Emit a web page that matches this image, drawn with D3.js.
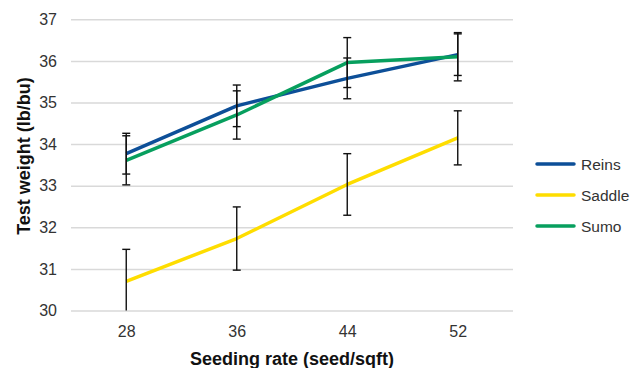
<!DOCTYPE html>
<html>
<head>
<meta charset="utf-8">
<script src="https://cdn.jsdelivr.net/npm/d3@7"></script>
<style>
  body { margin: 0; background: #fff; }
  svg { font-family: "Liberation Sans", Arial, sans-serif; }
</style>
</head>
<body>
<svg class="chart" width="641" height="368"></svg>
<script>
const rates = ["28", "36", "44", "52"];
const yTicks = [30, 31, 32, 33, 34, 35, 36, 37];
const seriesNames = ["Reins", "Saddle", "Sumo"];
const reins = [33.77, 34.92, 35.58, 36.15];
const saddle = [30.70, 31.73, 33.03, 34.15];
const sumo = [33.61, 34.70, 35.96, 36.10];
const reinsErr = [0.49, 0.50, 0.49, 0.50];
const saddleErr = [0.77, 0.76, 0.74, 0.65];
const sumoErr = [0.59, 0.58, 0.60, 0.58];

const colors = ["#0d4f98", "#fedd00", "#079f5e"];

const series = seriesNames.map((name, i) => ({
  name,
  color: colors[i],
  values: [reins, saddle, sumo][i],
  errs: [reinsErr, saddleErr, sumoErr][i]
}));

const plotL = 71, plotR = 513, plotT = 19.3, plotB = 310.5;

const x = d3.scalePoint()
            .domain(rates)
            .range([plotL, plotR])
            .padding(0.5);

const y = d3.scaleLinear()
            .domain([30, 37])
            .range([plotB, plotT]);

const svg = d3.select('svg.chart');

// gridlines + y labels
const yAxis = svg.append('g')
    .attr('transform', `translate(${plotL}, 0)`)
    .call(d3.axisLeft(y).tickValues(yTicks).tickSize(-(plotR - plotL)).tickPadding(14).tickFormat(d3.format('d')));
yAxis.select('.domain').remove();
yAxis.selectAll('.tick line').style('stroke', '#d9d9d9').style('stroke-width', '1.5px');
yAxis.selectAll('.tick text')
     .style('font-size', '16px')
     .style('fill', '#333')
     .style('font-family', '"Liberation Sans", Arial, sans-serif');

// x labels
const xAxis = svg.append('g')
    .attr('transform', `translate(0, ${plotB})`)
    .call(d3.axisBottom(x).tickSize(0).tickPadding(15));
xAxis.select('.domain').remove();
xAxis.selectAll('.tick text')
     .style('font-size', '16px')
     .style('fill', '#333')
     .style('font-family', '"Liberation Sans", Arial, sans-serif');

// lines
const line = d3.line()
               .x((d, i) => x(rates[i]))
               .y(d => y(d));

svg.selectAll('path.series')
   .data(series)
   .enter()
   .append('path')
   .attr('class', 'series')
   .attr('d', d => line(d.values))
   .style('fill', 'none')
   .style('stroke', d => d.color)
   .style('stroke-width', '3.5px')
   .style('stroke-linejoin', 'round');

// error bars
const bars = [];
series.forEach(s => {
  s.values.forEach((v, i) => {
    bars.push({rate: rates[i], hi: v + s.errs[i], lo: v - s.errs[i]});
  });
});

const eb = svg.selectAll('g.err')
   .data(bars)
   .enter()
   .append('g')
   .attr('class', 'err')
   .style('stroke', '#111')
   .style('stroke-width', '1.4px');

eb.append('line')
  .attr('x1', d => x(d.rate)).attr('x2', d => x(d.rate))
  .attr('y1', d => y(d.hi))
  .attr('y2', d => y(Math.max(d.lo, 30)));

eb.append('line')
  .attr('x1', d => x(d.rate) - 4).attr('x2', d => x(d.rate) + 4)
  .attr('y1', d => y(d.hi)).attr('y2', d => y(d.hi));

eb.filter(d => d.lo >= 30)
  .append('line')
  .attr('x1', d => x(d.rate) - 4).attr('x2', d => x(d.rate) + 4)
  .attr('y1', d => y(d.lo)).attr('y2', d => y(d.lo));

// axis titles
svg.append('text')
   .attr('x', 292)
   .attr('y', 365)
   .style('text-anchor', 'middle')
   .style('font-size', '18px')
   .style('font-weight', 'bold')
   .style('fill', '#111')
   .text('Seeding rate (seed/sqft)');

svg.append('text')
   .attr('transform', 'translate(30, 156) rotate(-90)')
   .style('text-anchor', 'middle')
   .style('font-size', '18px')
   .style('font-weight', 'bold')
   .style('fill', '#111')
   .text('Test weight (lb/bu)');

// legend
const legend = svg.selectAll('g.legend')
   .data(series)
   .enter()
   .append('g')
   .attr('class', 'legend')
   .attr('transform', (d, i) => `translate(537, ${164 + i * 31})`);

legend.append('line')
      .attr('x1', 0).attr('x2', 37)
      .attr('y1', 0).attr('y2', 0)
      .style('stroke', d => d.color)
      .style('stroke-width', '3.5px')
      .style('stroke-linecap', 'round');

legend.append('text')
      .attr('x', 44)
      .attr('y', 5.5)
      .style('font-size', '15.5px')
      .style('fill', '#333')
      .text(d => d.name);
</script>
</body>
</html>
